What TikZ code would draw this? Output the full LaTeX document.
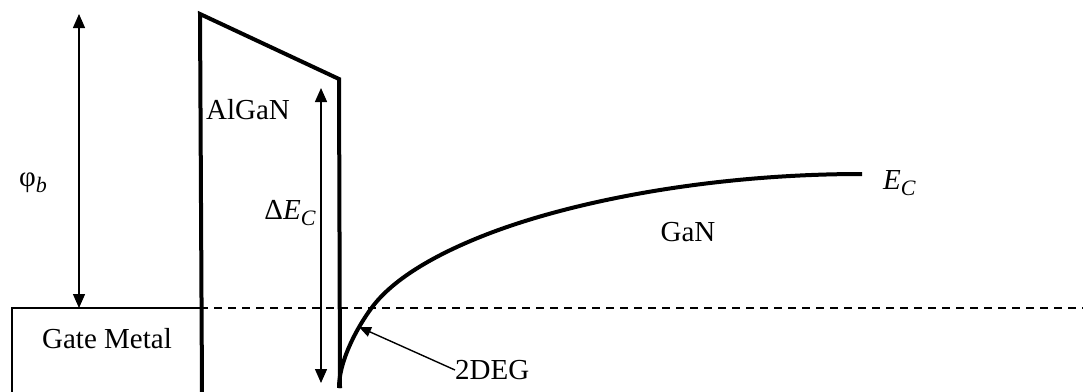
\documentclass[tikz,border=0pt]{standalone}
\usepackage{fontspec}
\setmainfont{Liberation Serif}
\usetikzlibrary{arrows.meta}
\newcommand{\lowsub}[1]{\raisebox{-0.4ex}{\fontsize{22}{24}\selectfont\itshape #1}}
\tikzset{
  band/.style={line width=4pt, line join=miter},
  metal/.style={line width=2pt},
  fermi/.style={line width=2pt, dash pattern=on 8pt off 6pt},
  dim/.style={{Triangle[length=14pt,width=12pt]}-{Triangle[length=14pt,width=12pt]}, line width=1.4pt},
  a/.style={-{Triangle[length=12pt,width=10pt]}, line width=1.4pt},
  lbl/.style={font=\fontsize{29}{33}\selectfont, inner sep=0pt},
}

\begin{document}
\begin{tikzpicture}[x=1pt, y=-1pt]
\useasboundingbox (0,0) rectangle (1083,391);

% ---- band corners ----
\coordinate (mbot) at (12,393);
\coordinate (mtop) at (200,308);
\coordinate (wbot) at (202,393);
\coordinate (wtop) at (200,14);
\coordinate (btop) at (339,79);
\coordinate (bbot) at (340,388);
\coordinate (fend) at (1083,308);
\coordinate (cbot) at (339,388);
\coordinate (cfer) at (373,306);
\coordinate (cmid) at (493,232);
\coordinate (cend) at (862,174);

% ---- gate metal, barrier, fermi level ----
\draw[metal] (mbot) |- (mtop);
\draw[band] (wbot) -- (wtop) -- (btop) -- (bbot);
\draw[fermi] (mtop) -- (fend);

% ---- GaN conduction band ----
\draw[band] (cbot) .. controls (339,358) and (360.8,321.8) .. (cfer)
                   .. controls (397.4,274.4) and (446.2,249.5) .. (cmid)
                   .. controls (577.3,200.5) and (712,174) .. (cend);

% ---- labels ----
\node[lbl] (gate)  at (107,339) {Gate Metal};
\node[lbl] (algan) at (248,110) {AlGaN};
\node[lbl] (gan)   at (688,232) {GaN};
\node[lbl] (phib)  at (33,183) {φ\lowsub{b}};
\node[lbl] (dec)   at (290,213) {Δ\textit{E}\lowsub{C}};
\node[lbl, anchor=west] (ec)  at (883,183) {\textit{E}\lowsub{C}};
\node[lbl, anchor=west] (deg) at (455,370) {2DEG};

% ---- dimension arrows ----
\coordinate (phit) at (79,14);
\coordinate (phid) at (79,308);
\coordinate (dect) at (321,88);
\coordinate (decd) at (321,383);
\coordinate (gas)  at (359,327);
\draw[dim] (phit) -- (phid);
\draw[dim] (dect) -- (decd);
\draw[a] (deg.west) -- (gas);
\end{tikzpicture}
\end{document}
